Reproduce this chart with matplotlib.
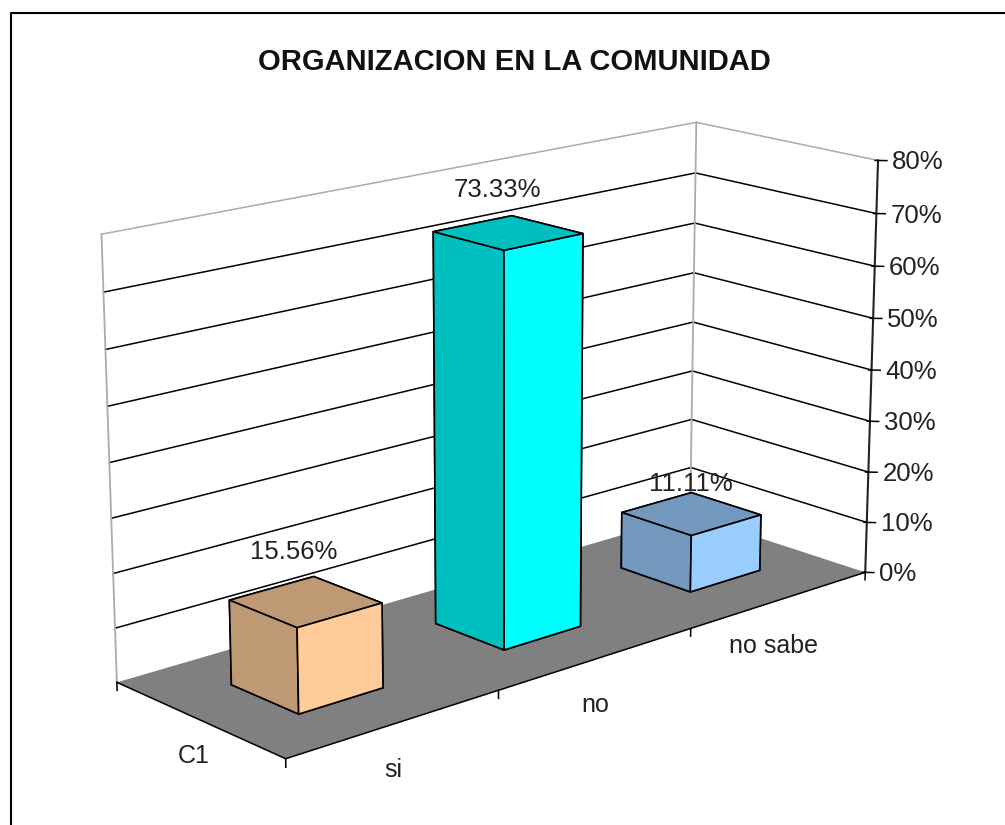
#!/usr/bin/env python3
# 3D column chart, Excel style, drawn with mplot3d
import numpy as np
import matplotlib
matplotlib.use('Agg')
import matplotlib.pyplot as plt
from matplotlib.lines import Line2D
from mpl_toolkits.mplot3d import proj3d
from mpl_toolkits.mplot3d.art3d import Poly3DCollection

#%% data
title = 'ORGANIZACION EN LA COMUNIDAD'
categories = ['si', 'no', 'no sabe']
series_name = 'C1'
values = [15.56, 73.33, 11.11]
value_labels = ['15.56%', '73.33%', '11.11%']
z_ticks = [0, 10, 20, 30, 40, 50, 60, 70, 80]
light = ['#FFCC99', '#00FFFF', '#99CCFF']
dark = ['#BF9973', '#00BFBF', '#7399BF']

#%% layout
W, H = 1005, 825
TEXT = '#222222'
GRAY = '#ABABAB'
# camera fitted against the reference
ELEV, AZIM, FOCAL = 16.3425, -131.9285, 0.6914
BOX = (2.9749, 1, 1.6941)
SCALE, CX, CY = 4939.942, 508.0, 414.17
GAP_X, GAP_Y = 0.301, 0.302
# data label offsets in pixels from the centre of each bar top
label_dx = [-12, -11, 0]
label_dy = [50, 43, 30]

plt.rcParams['font.family'] = ['Liberation Sans', 'DejaVu Sans']
fig = plt.figure(figsize=(W/100, H/100), dpi=100)
ax = fig.add_axes([0, 0, 1, 1], projection='3d', computed_zorder=False)
ax.set_xlim(0, 3)
ax.set_ylim(0, 1)
ax.set_zlim(0, 80)
ax.view_init(ELEV, AZIM)
ax.set_proj_type('persp', focal_length=FOCAL)
ax.set_box_aspect(BOX)
x0v, y0v, wv, hv = ax.viewLim.bounds
side = SCALE*wv
ax.set_position([(CX + SCALE*x0v)/W, (H - CY + SCALE*y0v)/H, side/W, side/H])
ax.set_axis_off()

def label(x, y, z, s, dx=0, dy=0, ha='center', **kw):
    # put a 2D text at the projected spot of a 3D point
    u, v, _ = proj3d.proj_transform(x, y, z, ax.get_proj())
    ax.annotate(s, xy=(u, v), xycoords='data', xytext=(dx, dy), textcoords='offset pixels',
                ha=ha, va='center', color=TEXT, annotation_clip=False, zorder=30, **kw)

#%% floor and walls
floor = Poly3DCollection([[(0, 0, 0), (3, 0, 0), (3, 1, 0), (0, 1, 0)]],
                         facecolor='#808080', edgecolor='none', zorder=1)
ax.add_collection3d(floor)
for z in z_ticks[1:]:
    c = GRAY if z == z_ticks[-1] else 'black'
    ax.plot([0, 3, 3], [1, 1, 0], [z, z, z], color=c, lw=1.1, zorder=2, clip_on=False)
ax.plot([0, 0], [1, 1], [0, 80], color=GRAY, lw=1.3, zorder=2, clip_on=False)
ax.plot([3, 3], [1, 1], [0, 80], color=GRAY, lw=1.3, zorder=2, clip_on=False)

#%% axes and ticks
ax.plot([0, 0, 3], [1, 0, 0], [0, 0, 0], color='black', lw=1.1, zorder=3, clip_on=False)
ax.plot([3, 3], [0, 0], [0, 80], color='#222222', lw=1.5, zorder=3, clip_on=False)
for z in z_ticks:
    ax.plot([2.992, 3.024], [.008, -.025], [z, z], color='black', lw=1.1, zorder=3, clip_on=False)
    label(3, 0, z, f'{z}%', dx=14, dy=-2, ha='left', fontsize=18.5)
for x in range(len(categories)+1):
    ax.plot([x, x], [0, 0], [0, -1.5], color='black', lw=1.1, zorder=3, clip_on=False)
ax.plot([0, 0], [1, 1], [0, -1.5], color='black', lw=1.1, zorder=3, clip_on=False)

#%% bars
for i, v in enumerate(values):
    cols = [dark[i], dark[i], light[i], light[i], dark[i], dark[i]]
    ax.bar3d(i+GAP_X, GAP_Y, 0, 1-2*GAP_X, 1-2*GAP_Y, v, color=cols, shade=False,
             edgecolor='black', linewidth=1.2, zorder=5+i)
    label(i+.5, .5, v, value_labels[i], dx=label_dx[i], dy=label_dy[i], fontsize=18.5)

#%% category and series names
for i, c in enumerate(categories):
    label(i+.5, 0, 0, c, dx=-2 if i < 2 else -7, dy=-46, fontsize=18)
label(0, .5, 0, series_name, dx=-5, dy=-37, fontsize=18)

#%% title and chart frame
fig.text(514.5/W, 1-61.5/H, title, ha='center', va='center', fontsize=21,
         fontweight='bold', color='#111111')
fig.add_artist(Line2D([10.5/W, 10.5/W, 1], [0, 1-13/H, 1-13/H], color='black', lw=1.5))

fig.savefig('out.png', dpi=100)
